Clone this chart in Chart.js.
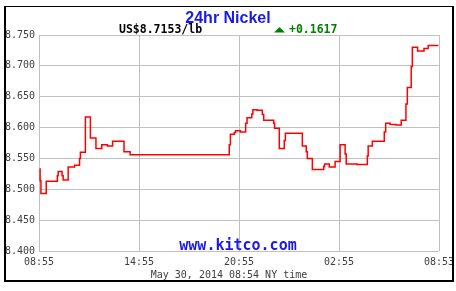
<!DOCTYPE html>
<html><head><meta charset="utf-8">
<script src="https://cdn.jsdelivr.net/npm/chart.js@4/dist/chart.umd.min.js"></script>
<style>html,body{margin:0;padding:0;background:#fff;overflow:hidden}#wrap{position:relative;width:456px;height:291px}</style>
</head><body><div id="wrap"><canvas id="c" width="456" height="291"></canvas></div>
<script>
const chartTitle = "24hr Nickel";
const priceText = "US$8.7153/lb";
const changeText = "+0.1617";
const siteText = "www.kitco.com";
const footerText = "May 30, 2014 08:54 NY time";
const tickLabels = ["08:55", "14:55", "20:55", "02:55", "08:53"];
const yMin = 8.4, yMax = 8.75, yStep = 0.05;

const times = ["08:57","08:59","09:02","09:21","10:01","10:04","10:18","10:22","10:40","11:03",
  "11:21","11:24","11:42","12:00","12:20","12:41","13:01","13:20","14:01","14:23",
  "20:20","20:24","20:38","20:43","21:00","21:19","21:24","21:41","21:45","22:00",
  "22:19","22:24","23:00","23:03","23:20","23:38","23:42","00:43","00:57","01:01",
  "01:19","02:00","02:03","02:20","02:41","02:59","03:17","03:21","04:00","04:37",
  "04:40","04:55","05:38","05:43","05:59","06:20","06:39","06:56","07:01","07:15",
  "07:19","07:38","08:01","08:16","08:53"];
const prices = [8.533,8.514,8.493,8.513,8.522,8.529,8.522,8.515,8.536,8.539,
  8.550,8.560,8.617,8.583,8.566,8.572,8.570,8.578,8.561,8.556,
  8.572,8.589,8.592,8.595,8.593,8.607,8.616,8.622,8.629,8.628,
  8.621,8.612,8.607,8.599,8.566,8.579,8.591,8.570,8.561,8.550,
  8.532,8.537,8.541,8.536,8.545,8.572,8.557,8.541,8.540,8.554,
  8.570,8.578,8.593,8.607,8.605,8.604,8.612,8.638,8.665,8.699,
  8.730,8.724,8.728,8.733,8.733];

const startMinute = 8 * 60 + 55;
function toOffset(t) {
  const p = t.split(":").map(Number);
  let v = p[0] * 60 + p[1] - startMinute;
  if (v < 0) v += 1440;
  return v;
}
const points = times.map((t, i) => ({ x: toOffset(t), y: prices[i] }));

const MONO = "'DejaVu Sans Mono', 'Liberation Mono', monospace";

const decor = {
  id: "decor",
  beforeDraw(chart) {
    const ctx = chart.ctx;
    ctx.save();
    ctx.fillStyle = "#fff";
    ctx.fillRect(0, 0, chart.width, chart.height);
    ctx.restore();
  },
  afterDraw(chart) {
    const ctx = chart.ctx;
    ctx.save();
    ctx.fillStyle = "#000";
    ctx.fillRect(4, 6, 450, 1);
    ctx.fillRect(4, 6, 2, 276);
    ctx.fillRect(452, 6, 2, 276);
    ctx.fillRect(4, 280, 450, 2);
    ctx.fillStyle = "#1a1ae8";
    ctx.font = "bold 16px 'Liberation Sans', Arial, sans-serif";
    ctx.textAlign = "center";
    ctx.textBaseline = "alphabetic";
    ctx.fillText(chartTitle, 228, 23);
    ctx.textAlign = "left";
    ctx.fillStyle = "#000";
    ctx.font = "bold 11.5px " + MONO;
    ctx.fillText(priceText, 119, 33);
    ctx.fillStyle = "#008000";
    ctx.beginPath();
    ctx.moveTo(274, 32.5);
    ctx.lineTo(285, 32.5);
    ctx.lineTo(279.5, 27);
    ctx.closePath();
    ctx.fill();
    ctx.fillText(changeText, 289, 33);
    ctx.fillStyle = "#1a1ae8";
    ctx.font = "bold 15px " + MONO;
    ctx.textAlign = "center";
    ctx.fillText(siteText, 238, 250);
    ctx.fillStyle = "#404040";
    ctx.font = "10px " + MONO;
    ctx.fillText(footerText, 229, 278);
    ctx.restore();
  }
};

new Chart(document.getElementById("c"), {
  type: "line",
  data: {
    datasets: [{
      data: points,
      borderColor: "#ff0000",
      borderWidth: 1.5,
      stepped: true,
      pointRadius: 0,
      fill: false
    }]
  },
  options: {
    responsive: false,
    animation: false,
    devicePixelRatio: 1,
    layout: { padding: { left: 0, right: 17, top: 35, bottom: 0 } },
    plugins: { legend: { display: false }, tooltip: { enabled: false }, title: { display: false } },
    scales: {
      x: {
        type: "linear",
        min: 0, max: 1440,
        afterFit(s) { s.height = 40; s.paddingLeft = 0; s.paddingRight = 0; },
        afterBuildTicks(s) { s.ticks = tickLabels.map((_, i) => ({ value: i * 360 })); },
        ticks: {
          callback: (v) => tickLabels[Math.round(v / 360)],
          font: { family: MONO, size: 10 },
          color: "#404040",
          padding: 5,
          maxRotation: 0,
          autoSkip: false
        },
        grid: { color: "#c0c0c0", drawTicks: false, lineWidth: 1 },
        border: { display: false }
      },
      y: {
        min: yMin, max: yMax,
        afterFit(s) { s.width = 39; s.paddingTop = 0; s.paddingBottom = 0; },
        ticks: {
          stepSize: yStep,
          callback: (v) => Number(v).toFixed(3),
          font: { family: MONO, size: 10 },
          color: "#404040",
          padding: 4
        },
        grid: { color: "#c0c0c0", drawTicks: false, lineWidth: 1 },
        border: { display: false }
      }
    }
  },
  plugins: [decor]
});
</script>
</body></html>
